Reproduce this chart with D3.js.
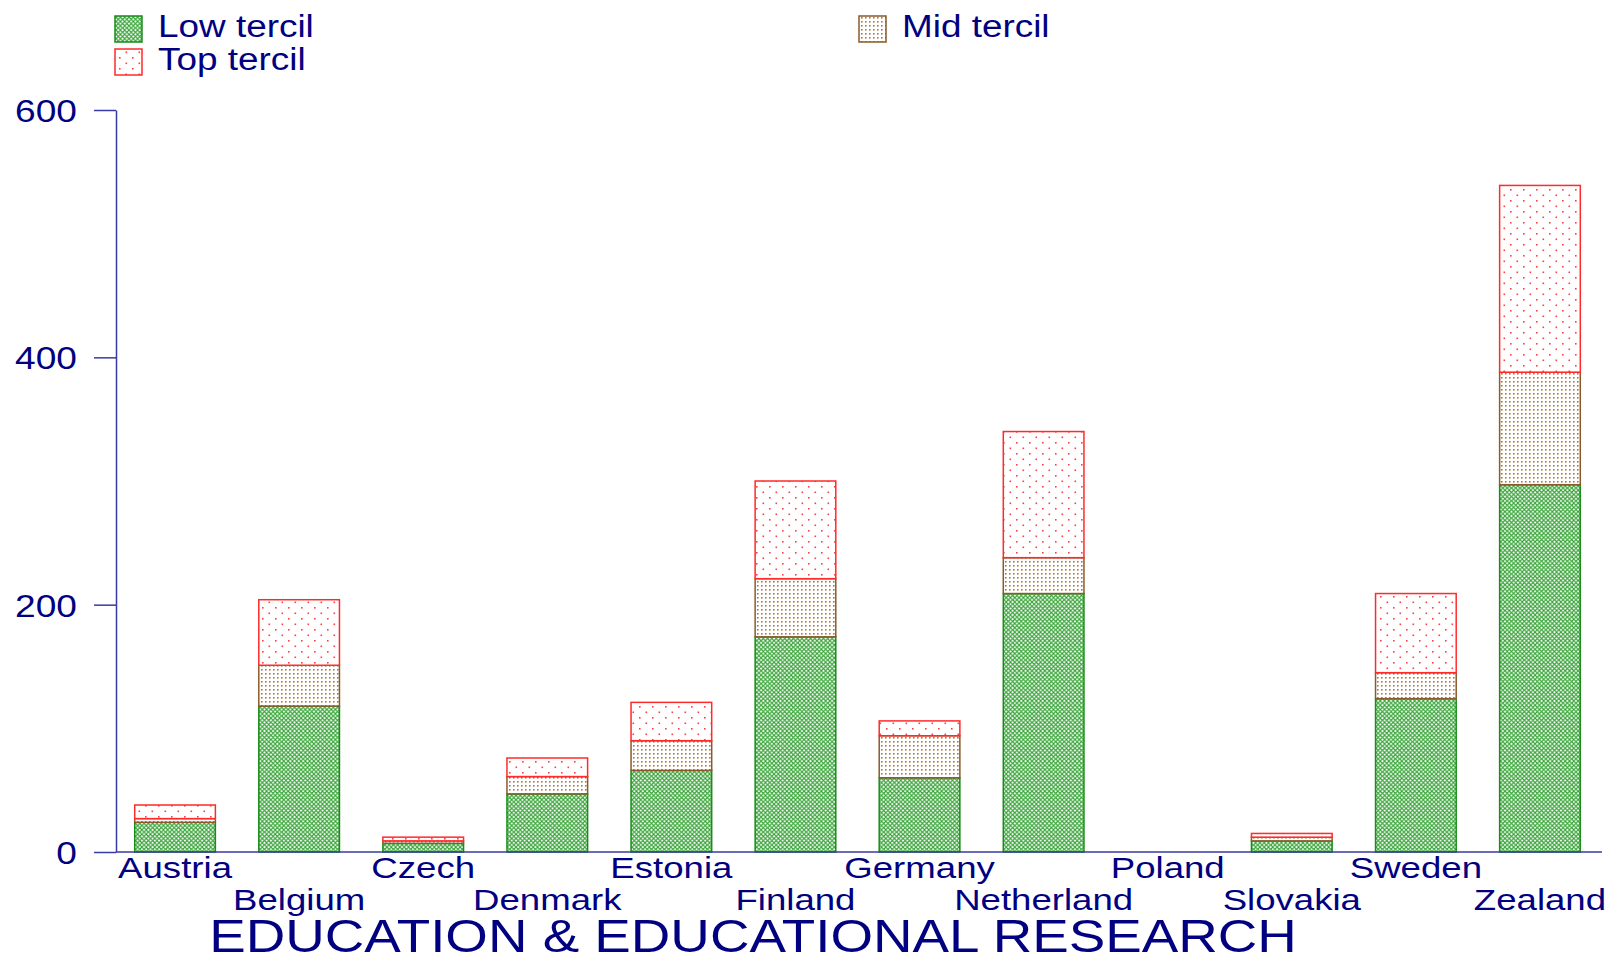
<!DOCTYPE html>
<html>
<head>
<meta charset="utf-8">
<script src="https://cdn.jsdelivr.net/npm/d3@7"></script>
<style>
  body { margin: 0; background: #fff; }
  text { font-family: "Liberation Sans", Arial, sans-serif; fill: #000080; }
</style>
</head>
<body>
<div id="chart"></div>
<script>
// categories and series (counts per tercil)
var countries = ["Austria", "Belgium", "Czech", "Denmark", "Estonia", "Finland",
                 "Germany", "Netherland", "Poland", "Slovakia", "Sweden", "Zealand"];
var lowTercil = [24, 118, 7, 47, 66, 174, 60, 209, 0, 9, 124, 297];
var midTercil = [3, 33, 2, 14, 24, 47, 34, 29, 0, 3, 21, 91];
var topTercil = [11, 53, 3, 15, 31, 79, 12, 102, 0, 3, 64, 151];
var seriesNames = ["Low tercil", "Mid tercil", "Top tercil"];
var yTicks = [0, 200, 400, 600];
var title = "EDUCATION & EDUCATIONAL RESEARCH";

const width = 1612, height = 956;
const stretch = 1.22; // text in the original is drawn a bit wide

var svg = d3.select("#chart").append("svg")
    .attr("width", width)
    .attr("height", height);

// fill patterns
var defs = svg.append("defs");

var pLow = defs.append("pattern").attr("id", "p-low")
    .attr("patternUnits", "userSpaceOnUse").attr("width", 4.3).attr("height", 4.3);
pLow.append("rect").attr("width", 4.3).attr("height", 4.3).attr("fill", "#fff");
pLow.append("path").attr("d", "M0,0 L4.3,4.3 M4.3,0 L0,4.3")
    .attr("stroke", "#36a336").attr("stroke-width", 1.1).attr("fill", "none");

var pMid = defs.append("pattern").attr("id", "p-mid")
    .attr("patternUnits", "userSpaceOnUse").attr("width", 4).attr("height", 4);
pMid.append("rect").attr("width", 4).attr("height", 4).attr("fill", "#fff");
pMid.append("rect").attr("x", 1).attr("y", 1).attr("width", 1.6).attr("height", 1.6)
    .attr("fill", "#a8784a");

var pTop = defs.append("pattern").attr("id", "p-top")
    .attr("patternUnits", "userSpaceOnUse").attr("width", 13).attr("height", 11);
pTop.append("rect").attr("width", 13).attr("height", 11).attr("fill", "#fff");
pTop.append("rect").attr("x", 2).attr("y", 2).attr("width", 1.6).attr("height", 1.6)
    .attr("fill", "#ff4040");
pTop.append("rect").attr("x", 8.5).attr("y", 7.5).attr("width", 1.6).attr("height", 1.6)
    .attr("fill", "#ff4040");

var fills = ["url(#p-low)", "url(#p-mid)", "url(#p-top)"];
var strokes = ["#1a8c1a", "#8b5a2b", "#ff2a2a"];

// scales
var x = d3.scaleBand().domain(countries).range([113, 1602])
    .paddingInner(0.35).paddingOuter(0.175);
var y = d3.scaleLinear().domain([0, 600]).range([852, 110]);

// stacked data
var table = countries.map(function(c, i){
    return {country: c, low: lowTercil[i], mid: midTercil[i], top: topTercil[i]};
});
var stack = d3.stack().keys(["low", "mid", "top"]);
var layers = stack(table);

var gBars = svg.append("g");
layers.forEach(function(layer, k){
    gBars.selectAll(null)
        .data(layer.filter(function(d){ return d[1] - d[0] > 0; }))
        .enter()
        .append("rect")
        .attr("x", function(d){ return x(d.data.country); })
        .attr("y", function(d){ return y(d[1]); })
        .attr("width", x.bandwidth())
        .attr("height", function(d){ return y(d[0]) - y(d[1]); })
        .attr("fill", fills[k])
        .attr("stroke", strokes[k])
        .attr("stroke-width", 1.5);
});

// y axis
var yaxis = d3.axisLeft(y).tickValues(yTicks).tickSize(22).tickSizeOuter(0);
var gy = svg.append("g")
    .attr("transform", "translate(116,0)")
    .call(yaxis);
gy.selectAll("path, line").attr("stroke", "#3a3aa6").attr("stroke-width", 1.5);
gy.selectAll("text")
    .attr("x", null)
    .attr("dy", "0.36em")
    .attr("transform", "translate(-39,0) scale(1.16,1)")
    .attr("text-anchor", "end")
    .style("font-size", "32px")
    .style("font-family", "'Liberation Sans', Arial, sans-serif")
    .attr("fill", "#000080");

// x axis line
svg.append("line")
    .attr("x1", 116).attr("x2", x.range()[1])
    .attr("y1", y(0)).attr("y2", y(0))
    .attr("stroke", "#3a3aa6").attr("stroke-width", 1.5);

// category labels, alternating rows
svg.selectAll(null)
    .data(countries)
    .enter()
    .append("text")
    .attr("transform", function(d, i){
        var cx = x(d) + x.bandwidth() / 2;
        var cy = i % 2 === 0 ? 878 : 910;
        return "translate(" + cx + "," + cy + ") scale(" + stretch + ",1)";
    })
    .attr("text-anchor", "middle")
    .style("font-size", "30px")
    .text(function(d){ return d; });

// title
svg.append("text")
    .attr("transform", "translate(753,952) scale(1.19,1)")
    .attr("text-anchor", "middle")
    .style("font-size", "46px")
    .text(title);

// legend
var legendPos = [[115, 16], [859, 16], [115, 49]];
var lg = svg.append("g");
seriesNames.forEach(function(name, k){
    var p = legendPos[k];
    lg.append("rect")
        .attr("x", p[0]).attr("y", p[1])
        .attr("width", 27).attr("height", 26)
        .attr("fill", fills[k])
        .attr("stroke", strokes[k])
        .attr("stroke-width", 1.5);
    lg.append("text")
        .attr("transform", "translate(" + (p[0] + 43) + "," + (p[1] + 21) + ") scale(1.19,1)")
        .style("font-size", "31px")
        .text(name);
});
</script>
</body>
</html>
